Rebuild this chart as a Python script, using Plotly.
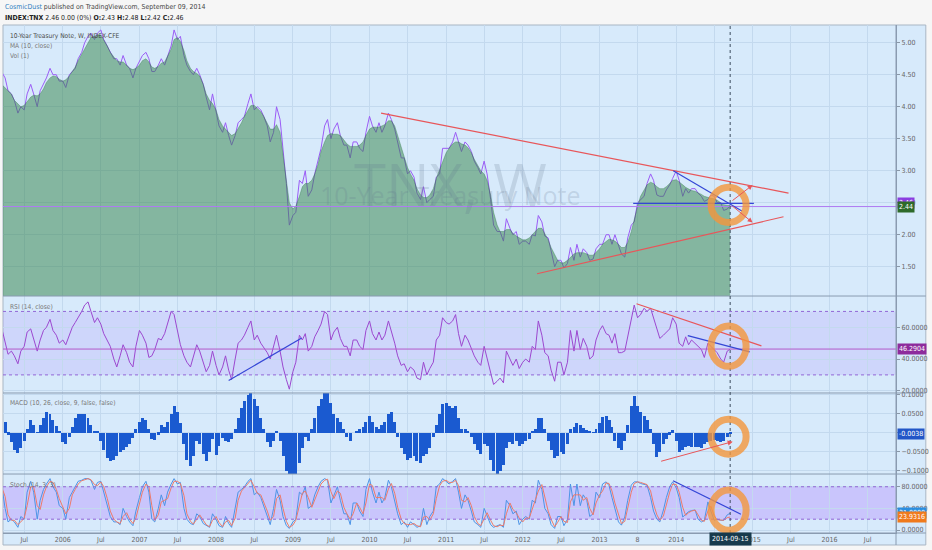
import pandas as pd
import plotly.graph_objects as go

# ---------------- data (semi-monthly samples: 1st and 15th) ----------------
price_2005 = [4.55,4.45,4.25,4.2,4.1,3.9,4.0,3.95,4.2,4.35,4.2,4.0,4.25,4.35,4.45,4.6,4.5,4.5,4.4]
price_2006 = [4.4,4.3,4.5,4.55,4.6,4.75,4.85,5.0,5.1,5.15,5.05,5.15,5.2,5.05,4.95,4.85,4.75,4.75,4.65,4.8,4.65,4.6,4.45,4.6]
price_2007 = [4.7,4.8,4.85,4.75,4.55,4.55,4.65,4.75,4.65,4.8,4.95,5.2,5.05,5.1,4.8,4.65,4.55,4.5,4.6,4.5,4.35,4.15,3.95,4.2]
price_2008 = [3.95,3.7,3.6,3.75,3.55,3.4,3.55,3.75,3.8,3.85,4.05,4.2,3.95,4.0,3.95,3.85,3.7,3.45,3.6,4.0,3.8,3.3,2.8,2.15]
price_2009 = [2.3,2.35,2.85,2.8,3.0,2.6,2.7,2.95,3.15,3.35,3.7,3.8,3.5,3.65,3.75,3.55,3.4,3.4,3.2,3.45,3.45,3.35,3.3,3.6]
price_2010 = [3.85,3.7,3.6,3.75,3.6,3.7,3.9,3.8,3.65,3.45,3.2,3.2,2.95,3.0,2.9,2.65,2.55,2.75,2.5,2.55,2.6,2.9,2.95,3.35]
price_2011 = [3.35,3.35,3.45,3.6,3.45,3.3,3.45,3.4,3.3,3.15,3.05,2.95,3.15,2.95,2.55,2.15,2.05,2.05,1.9,2.25,2.1,2.0,2.05,1.85]
price_2012 = [1.9,1.9,1.85,2.0,1.98,2.3,2.2,1.98,1.95,1.75,1.5,1.6,1.6,1.48,1.55,1.8,1.6,1.85,1.65,1.78,1.72,1.6,1.62,1.78]
price_2013 = [1.85,1.85,2.0,2.0,1.85,2.0,1.85,1.7,1.65,1.95,2.15,2.2,2.5,2.55,2.6,2.8,2.95,2.85,2.62,2.6,2.6,2.7,2.78,2.88]
price_2014 = [3.0,2.85,2.6,2.72,2.65,2.72,2.72,2.65,2.6,2.52,2.55,2.62,2.6,2.5,2.5,2.38,2.4,2.46]

ma_2005 = [4.35,4.3,4.25,4.2,4.1,4.05,4.0,4.02,4.08,4.15,4.18,4.17,4.2,4.28,4.38,4.45,4.48,4.47,4.43]
ma_2006 = [4.4,4.42,4.48,4.55,4.62,4.72,4.82,4.92,5.02,5.08,5.1,5.12,5.12,5.05,4.95,4.85,4.77,4.72,4.7,4.7,4.65,4.6,4.58,4.6]
ma_2007 = [4.65,4.72,4.75,4.7,4.62,4.6,4.63,4.68,4.7,4.78,4.9,5.05,5.08,5.02,4.88,4.72,4.6,4.55,4.52,4.48,4.35,4.2,4.1,4.05]
ma_2008 = [3.95,3.8,3.7,3.65,3.6,3.55,3.58,3.65,3.75,3.85,3.95,4.02,4.02,3.98,3.92,3.85,3.75,3.65,3.65,3.72,3.6,3.25,2.85,2.5]
ma_2009 = [2.4,2.45,2.6,2.75,2.8,2.8,2.85,2.95,3.1,3.3,3.45,3.55,3.58,3.57,3.57,3.55,3.48,3.42,3.38,3.38,3.38,3.4,3.45,3.55]
ma_2010 = [3.65,3.68,3.68,3.68,3.7,3.72,3.78,3.78,3.7,3.55,3.38,3.2,3.05,2.95,2.85,2.72,2.62,2.58,2.58,2.62,2.72,2.88,3.02,3.15]
ma_2011 = [3.28,3.35,3.42,3.45,3.45,3.42,3.4,3.36,3.28,3.18,3.08,3.0,2.95,2.85,2.62,2.35,2.15,2.05,2.05,2.08,2.08,2.02,1.98,1.95]
ma_2012 = [1.92,1.92,1.95,2.0,2.05,2.1,2.1,2.02,1.92,1.8,1.68,1.6,1.56,1.56,1.6,1.65,1.7,1.72,1.72,1.72,1.7,1.68,1.68,1.72]
ma_2013 = [1.78,1.85,1.9,1.93,1.92,1.9,1.85,1.8,1.8,1.88,2.05,2.25,2.45,2.6,2.7,2.78,2.82,2.8,2.75,2.72,2.72,2.75,2.8,2.85]
ma_2014 = [2.86,2.83,2.78,2.74,2.71,2.69,2.68,2.66,2.63,2.6,2.58,2.57,2.56,2.54,2.5,2.47,2.46,2.46]

rsi_2005 = [60,50,43,45,42,37,45,48,57,59,52,45,52,58,60,65,58,55,50]
rsi_2006 = [52,49,55,60,63,66,70,74,76,70,63,66,62,56,52,48,40,35,42,49,44,38,35,48]
rsi_2007 = [58,55,50,41,42,46,53,52,56,62,70,68,58,49,42,38,35,42,49,45,38,32,36,45]
rsi_2008 = [36,30,35,42,33,27,40,50,52,55,60,64,52,55,50,47,44,40,48,55,45,35,27,21]
rsi_2009 = [32,38,55,52,56,45,48,54,58,62,70,68,52,57,60,53,48,48,42,52,52,48,46,58]
rsi_2010 = [64,56,52,57,52,55,64,58,50,42,36,37,32,35,33,28,27,38,30,34,38,52,55,66]
rsi_2011 = [63,62,64,68,56,48,55,52,47,42,38,36,48,40,30,24,26,28,25,45,40,36,40,34]
rsi_2012 = [38,40,38,48,46,64,55,44,42,33,26,38,38,30,38,58,45,58,46,53,48,40,42,52]
rsi_2013 = [58,61,56,55,50,56,44,44,45,54,63,74,66,68,72,70,72,66,58,53,55,57,59,66]
rsi_2014 = [62,50,48,54,49,52,50,48,46,41,50,48,46,44,40,38,45,46.29]

macd_2005 = [0.057,0.03,-0.005,-0.025,-0.045,-0.052,-0.04,-0.02,0.01,0.035,0.02,0.002,0.02,0.04,0.055,0.05,0.035,0.018,0.004]
macd_2006 = [-0.025,-0.03,-0.01,0.015,0.04,0.05,0.051,0.05,0.04,0.02,0.005,0.005,-0.02,-0.045,-0.065,-0.075,-0.07,-0.06,-0.05,-0.045,-0.038,-0.03,-0.012,0.01]
macd_2007 = [0.03,0.04,0.035,0.01,-0.015,-0.018,-0.005,0.02,0.015,0.03,0.05,0.07,0.055,0.025,-0.03,-0.07,-0.088,-0.06,-0.02,-0.03,-0.055,-0.075,-0.05,-0.017]
macd_2008 = [-0.057,-0.035,-0.012,-0.02,-0.025,-0.015,0.01,0.04,0.065,0.085,0.1,0.106,0.09,0.07,0.04,0.01,-0.025,-0.038,-0.02,0.004,-0.02,-0.06,-0.1,-0.11]
macd_2009 = [-0.11,-0.11,-0.08,-0.04,-0.01,-0.02,0.01,0.04,0.07,0.09,0.105,0.105,0.08,0.05,0.04,0.03,0.01,-0.01,-0.02,0.0,0.005,0.01,0.015,0.03]
macd_2010 = [0.045,0.03,0.015,0.01,0.02,0.03,0.05,0.055,0.03,-0.01,-0.04,-0.055,-0.07,-0.065,-0.06,-0.075,-0.08,-0.06,-0.055,-0.04,-0.01,0.02,0.05,0.075]
macd_2011 = [0.08,0.07,0.065,0.07,0.04,0.01,0.01,0.005,-0.01,-0.03,-0.045,-0.055,-0.03,-0.035,-0.07,-0.1,-0.11,-0.1,-0.085,-0.04,-0.025,-0.03,-0.02,-0.035]
macd_2012 = [-0.03,-0.02,-0.015,0.005,0.01,0.04,0.04,0.01,-0.02,-0.045,-0.065,-0.06,-0.05,-0.055,-0.03,0.01,0.015,0.025,0.02,0.012,0.008,0.004,0.002,0.01]
macd_2013 = [0.025,0.042,0.045,0.035,0.015,-0.02,-0.04,-0.044,-0.02,0.02,0.07,0.098,0.07,0.054,0.045,0.035,0.01,-0.03,-0.062,-0.05,-0.03,-0.015,-0.005,0.009]
macd_2014 = [-0.02,-0.049,-0.045,-0.038,-0.035,-0.036,-0.037,-0.036,-0.039,-0.03,-0.023,-0.02,-0.018,-0.022,-0.025,-0.02,-0.01,-0.0038]

stk_2005 = [85,40,15,20,15,5,25,20,70,90,70,20,55,75,85,95,80,70,45]
std_2005 = [80,62,28,18,18,10,15,22,45,80,80,45,38,65,80,90,88,75,58]
stk_2006 = [40,20,60,70,80,90,92,95,95,92,75,88,90,70,45,25,15,15,10,40,25,15,8,35]
std_2006 = [42,30,40,65,75,85,91,93,95,93,84,82,89,80,58,35,20,15,12,25,32,20,12,22]
stk_2007 = [60,80,90,70,20,15,40,65,45,70,85,95,85,88,40,20,12,10,30,25,12,8,5,30]
std_2007 = [48,70,85,80,45,18,28,52,55,58,78,90,90,86,64,30,16,11,20,28,18,10,6,18]
stk_2008 = [20,8,5,25,12,5,40,70,75,80,90,95,65,70,60,45,25,10,40,75,55,25,8,3]
std_2008 = [25,14,6,15,18,8,22,55,72,78,85,92,80,68,65,52,35,18,25,58,65,40,16,5]
stk_2009 = [15,20,70,65,80,40,45,65,80,90,95,92,50,65,80,55,30,30,10,50,50,35,25,75]
std_2009 = [9,18,45,68,72,60,42,55,72,85,92,94,71,58,72,68,42,30,20,30,50,42,30,50]
stk_2010 = [95,70,50,70,50,60,92,80,55,30,10,15,5,15,10,5,8,40,10,25,35,80,85,95]
std_2010 = [85,82,60,60,60,55,76,86,68,42,20,12,10,10,12,8,6,24,25,18,30,58,82,90]
stk_2011 = [90,85,90,95,70,40,65,55,35,15,10,5,40,25,10,5,8,10,5,55,45,30,35,10]
std_2011 = [92,88,88,92,82,55,52,60,45,25,12,8,22,32,18,8,6,9,8,30,50,38,32,22]
stk_2012 = [20,25,20,55,50,92,75,40,30,10,3,25,25,8,20,85,45,85,45,65,55,25,30,70]
std_2012 = [15,22,22,38,52,72,84,58,35,20,6,14,25,16,14,52,65,65,65,55,60,40,28,50]
stk_2013 = [60,85,89,82,60,40,15,9,24,55,83,89,89,86,85,83,60,35,20,15,37,60,80,89]
std_2013 = [65,72,87,86,72,50,28,12,16,40,70,86,89,88,86,84,72,48,28,18,26,48,70,85]
stk_2014 = [78,60,24,30,34,36,37,20,15,18,52,35,18,20,18,18,28,31]
std_2014 = [84,70,42,27,32,35,37,28,18,16,35,44,26,19,19,18,23,23.93]

x_tick_dates = ["2005-07-01","2006-01-01","2006-07-01","2007-01-01","2007-07-01","2008-01-01",
                "2008-07-01","2009-01-01","2009-07-01","2010-01-01","2010-07-01","2011-01-01",
                "2011-07-01","2012-01-01","2012-07-01","2013-01-01","2013-07-01","2014-01-01",
                "2014-07-01","2015-01-01","2015-07-01","2016-01-01","2016-07-01"]
x_tick_text = ["Jul","2006","Jul","2007","Jul","2008","Jul","2009","Jul","2010","Jul","2011",
               "Jul","2012","Jul","2013","8","2014","Jul","2015","Jul","2016","Jul"]

# drawings (date, value) pairs
main_upper_red = (["2010-02-25", "2015-06-20"], [3.90, 2.65])
main_lower_red = (["2012-03-09", "2015-05-27"], [1.39, 2.28])
main_blue_diag = (["2013-12-18", "2014-11-10"], [3.00, 2.37])
main_blue_flat = (["2013-06-10", "2015-01-06"], [2.49, 2.49])
main_arrow_up = (["2014-09-19", "2014-12-31"], [2.516, 2.777])
main_arrow_dn = (["2014-09-19", "2014-12-31"], [2.465, 2.19])
rsi_red = (["2013-06-26", "2015-02-11"], [74.8, 48.3])
rsi_blue = (["2014-02-25", "2014-12-17"], [54.7, 44.5])
rsi_blue_left = (["2008-03-01", "2009-02-12"], [26.5, 53.2])
macd_arrow = (["2013-10-14", "2014-09-27"], [-0.0755, -0.0229])
stoch_blue = (["2013-12-17", "2014-11-05"], [91.2, 29.3])
circle_x = ["2014-06-16", "2014-11-30"]
main_circle_y = [2.19, 2.74]
rsi_circle_y = [35.4, 60.8]
macd_circle_y = [-0.056, 0.036]
stoch_circle_y = [-0.5, 73.9]
cursor_date = "2014-09-15"

# ---------------- build ----------------
dates = pd.date_range("2005-03-15", "2014-09-15", freq="SMS")
price = price_2005+price_2006+price_2007+price_2008+price_2009+price_2010+price_2011+price_2012+price_2013+price_2014
ma = ma_2005+ma_2006+ma_2007+ma_2008+ma_2009+ma_2010+ma_2011+ma_2012+ma_2013+ma_2014
rsi = rsi_2005+rsi_2006+rsi_2007+rsi_2008+rsi_2009+rsi_2010+rsi_2011+rsi_2012+rsi_2013+rsi_2014
macd = macd_2005+macd_2006+macd_2007+macd_2008+macd_2009+macd_2010+macd_2011+macd_2012+macd_2013+macd_2014
stk = stk_2005+stk_2006+stk_2007+stk_2008+stk_2009+stk_2010+stk_2011+stk_2012+stk_2013+stk_2014
std = std_2005+std_2006+std_2007+std_2008+std_2009+std_2010+std_2011+std_2012+std_2013+std_2014
n = len(dates)
price, ma, rsi, macd, stk, std = [s[:n] for s in (price, ma, rsi, macd, stk, std)]

FONT = "Liberation Sans Narrow, DejaVu Sans Condensed, Arial Narrow, sans-serif"
BG = "#d7eafb"
GRID = "#c3d9ee"
SEP = "#8a9bb0"

fig = go.Figure()
fig.add_trace(go.Scatter(x=dates, y=price, mode="lines", line=dict(color="#9b5cf6", width=1),
                         xaxis="x", yaxis="y", hoverinfo="skip"))
fig.add_trace(go.Scatter(x=dates, y=ma, mode="lines", fill="tozeroy",
                         line=dict(color="rgba(40,115,60,0.35)", width=1),
                         fillcolor="rgba(50,130,70,0.5)", xaxis="x", yaxis="y", hoverinfo="skip"))
fig.add_trace(go.Scatter(x=dates, y=rsi, mode="lines", line=dict(color="#9c48d0", width=1),
                         xaxis="x", yaxis="y2", hoverinfo="skip"))
fig.add_trace(go.Bar(x=dates, y=macd, marker=dict(color="#1a5ad0", line=dict(width=0)),
                     xaxis="x", yaxis="y3", hoverinfo="skip"))
fig.add_trace(go.Scatter(x=dates, y=stk, mode="lines", line=dict(color="#4d94e6", width=1),
                         xaxis="x", yaxis="y4", hoverinfo="skip"))
fig.add_trace(go.Scatter(x=dates, y=std, mode="lines", line=dict(color="#ee7a6a", width=1),
                         xaxis="x", yaxis="y4", hoverinfo="skip"))

tickfont = dict(family=FONT, size=7, color="#666")
yax = dict(side="right", anchor="x", showgrid=True, gridcolor=GRID, gridwidth=1, zeroline=False,
           showline=True, linecolor=SEP, ticks="outside", ticklen=3, tickcolor="#8a98a8",
           tickfont=tickfont, fixedrange=True)

D_MAIN = [0.4665, 1.0]
D_RSI = [0.2756, 0.4665]
D_MACD = [0.1161, 0.2756]
D_STO = [0.0, 0.1161]

fig.update_layout(
    width=932, height=550, margin=dict(l=3, r=31, t=25, b=17),
    paper_bgcolor="#f6f6f6", plot_bgcolor="rgba(0,0,0,0)", showlegend=False, bargap=0,
    xaxis=dict(domain=[0, 1], anchor="y4", range=["2005-03-22", "2016-11-13"], type="date",
               tickvals=x_tick_dates, ticktext=x_tick_text, showgrid=True, gridcolor=GRID,
               tickfont=tickfont, ticks="", showline=True, linecolor=SEP, zeroline=False,
               fixedrange=True),
    yaxis=dict(domain=D_MAIN, range=[1.042, 5.277], tickvals=[1.5,2,2.5,3,3.5,4,4.5,5],
               tickformat=".2f", **yax),
    yaxis2=dict(domain=D_RSI, range=[18.6, 79.7], tickvals=[20,40,60], tickformat=".4f", **yax),
    yaxis3=dict(domain=D_MACD, range=[-0.108, 0.105], tickvals=[-0.1,-0.05,0,0.05,0.1],
                tickformat=".4f", **yax),
    yaxis4=dict(domain=D_STO, range=[-5.5, 103.5], tickvals=[0,40,80], tickformat=".4f", **yax),
)

shapes = []
shapes.append(dict(type="rect", xref="paper", yref="paper", x0=0, x1=1.0334, y0=-0.0236, y1=1,
                   fillcolor=BG, line=dict(color="#a9b6c4", width=1), layer="below"))
shapes.append(dict(type="rect", xref="paper", yref="y2", x0=0, x1=1, y0=30, y1=70,
                   fillcolor="rgba(160,110,255,0.16)", line=dict(width=0), layer="below"))
shapes.append(dict(type="rect", xref="paper", yref="y4", x0=0, x1=1, y0=20, y1=80,
                   fillcolor="rgba(165,100,255,0.28)", line=dict(width=0), layer="below"))
for yr, lv in (("y2", 70), ("y2", 30), ("y4", 80), ("y4", 20)):
    shapes.append(dict(type="line", xref="paper", yref=yr, x0=0, x1=1, y0=lv, y1=lv,
                       line=dict(color="#9266d6", width=1, dash="dot")))
shapes.append(dict(type="line", xref="paper", yref="y", x0=0, x1=1, y0=2.44, y1=2.44,
                   line=dict(color="#b07af2", width=1)))
shapes.append(dict(type="line", xref="paper", yref="y2", x0=0, x1=1, y0=46.29, y1=46.29,
                   line=dict(color="#b35ac9", width=1)))
for yp in (0.4665, 0.2756, 0.1161, 0.0):
    shapes.append(dict(type="line", xref="paper", yref="paper", x0=0, x1=1.0334, y0=yp, y1=yp,
                       line=dict(color=SEP, width=1)))
shapes.append(dict(type="line", xref="paper", yref="paper", x0=1, x1=1, y0=-0.0236, y1=1,
                   line=dict(color=SEP, width=1)))
shapes.append(dict(type="line", xref="x", yref="paper", x0=cursor_date, x1=cursor_date, y0=0, y1=1,
                   line=dict(color="#3d4d5e", width=1, dash="dot")))

def seg(pair, yref, color, width=1.2):
    return dict(type="line", xref="x", yref=yref, x0=pair[0][0], x1=pair[0][1],
                y0=pair[1][0], y1=pair[1][1], line=dict(color=color, width=width))

RED = "#e8565a"
BLUE = "#3446d6"
shapes += [seg(main_upper_red, "y", RED), seg(main_lower_red, "y", RED),
           seg(main_blue_diag, "y", BLUE), seg(main_blue_flat, "y", BLUE),
           seg(rsi_red, "y2", RED), seg(rsi_blue, "y2", BLUE), seg(rsi_blue_left, "y2", BLUE),
           seg(stoch_blue, "y4", BLUE)]
ORANGE = "rgba(244,150,60,0.8)"
for yr, cy in (("y", main_circle_y), ("y2", rsi_circle_y), ("y3", macd_circle_y), ("y4", stoch_circle_y)):
    shapes.append(dict(type="circle", xref="x", yref=yr, x0=circle_x[0], x1=circle_x[1],
                       y0=cy[0], y1=cy[1], line=dict(color=ORANGE, width=7)))
fig.update_layout(shapes=shapes)

ann = []
def arrow(pair, yref):
    return dict(x=pair[0][1], y=pair[1][1], ax=pair[0][0], ay=pair[1][0], xref="x", yref=yref,
                axref="x", ayref=yref, showarrow=True, arrowhead=2, arrowsize=1, arrowwidth=1,
                arrowcolor=RED, text="")
ann += [arrow(main_arrow_up, "y"), arrow(main_arrow_dn, "y"), arrow(macd_arrow, "y3")]

ann.append(dict(text="TNX, W", x=0.501, y=0.7697, xref="paper", yref="paper", showarrow=False,
                font=dict(family="Open Sans, sans-serif", size=58, color="rgba(95,115,140,0.2)")))
ann.append(dict(text="10-Year Treasury Note", x=0.501, y=0.6654, xref="paper", yref="paper",
                showarrow=False,
                font=dict(family="Open Sans, sans-serif", size=25, color="rgba(95,115,140,0.2)")))

def txt(s, y, color="#555", size=6.6, x=0, xshift=5):
    return dict(text=s, x=x, y=y, xref="paper", yref="paper", xanchor="left", yanchor="middle",
                showarrow=False, xshift=xshift, font=dict(family=FONT, size=size, color=color))

ann += [txt("10-Year Treasury Note, W, INDEX-CFE", (533-36)/508, "#4a4a4a"),
        txt("MA (10, close)", (533-46)/508, "#777"),
        txt("Vol (1)", (533-56)/508, "#777"),
        txt("RSI (14, close)", (533-307)/508, "#777"),
        txt("MACD (10, 26, close, 9, false, false)", (533-403)/508, "#777"),
        txt("Stoch (14, 3, 3)", (533-485)/508, "#777")]
ann += [txt("<span style='color:#2f7fc1'>CosmicDust</span> published on TradingView.com, September 09, 2014",
            (533-7)/508, "#444", 6.9, xshift=0),
        txt("<b>INDEX:TNX</b> 2.46 0.00 (0%) <b>O:</b>2.43 <b>H:</b>2.48 <b>L:</b>2.42 <b>C:</b>2.46",
            (533-17.5)/508, "#222", 6.9, xshift=0)]

def lab(s, y, yref, bg):
    return dict(text=s, x=1, y=y, xref="paper", yref=yref, xanchor="left", yanchor="middle",
                xshift=1, showarrow=False, bgcolor=bg, borderpad=1,
                font=dict(family=FONT, size=7, color="white"))
ann += [lab("2.46", 2.50, "y", "#8a3ee0"), lab("2.44", 2.44, "y", "#2e6a2a"),
        lab("46.2904", 46.29, "y2", "#8d2b9c"),
        lab("-0.0038", -0.0038, "y3", "#2256c7"),
        lab("31.0000", 31.0, "y4", "#2b8ee0"), lab("23.9316", 23.93, "y4", "#f07a1c")]
ann.append(dict(text="2014-09-15", x=cursor_date, y=-0.0125, xref="x", yref="paper",
                xanchor="center", yanchor="middle", showarrow=False, bgcolor="#173a4c", borderpad=2,
                font=dict(family=FONT, size=7, color="white")))
fig.update_layout(annotations=ann)

fig.write_html("out.html", config={"displayModeBar": False},
               post_script="document.body.style.margin='0';document.body.style.padding='0';")
